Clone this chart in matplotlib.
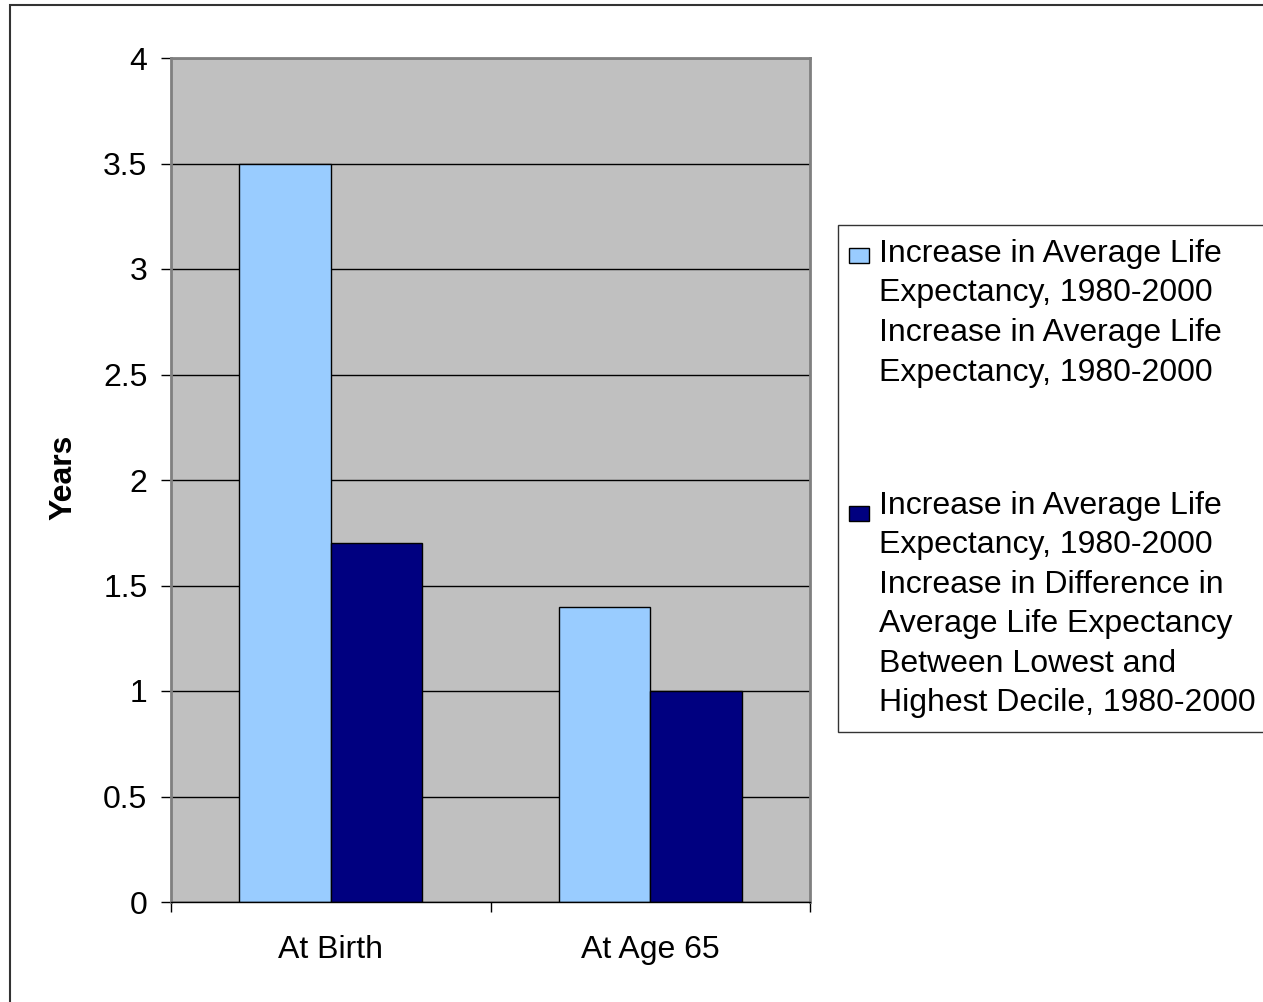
import matplotlib
matplotlib.use("Agg")
import matplotlib.pyplot as plt
from matplotlib.patches import Rectangle
import numpy as np

# datos
categorias = ["At Birth", "At Age 65"]
serie_clara = [3.5, 1.4]
serie_oscura = [1.7, 1.0]
etiquetas_leyenda = [
    "Increase in Average Life\nExpectancy, 1980-2000\nIncrease in Average Life\nExpectancy, 1980-2000",
    "Increase in Average Life\nExpectancy, 1980-2000\nIncrease in Difference in\nAverage Life Expectancy\nBetween Lowest and\nHighest Decile, 1980-2000",
]
yticks = [0, 0.5, 1, 1.5, 2, 2.5, 3, 3.5, 4]
ytick_labels = ["0", "0.5", "1", "1.5", "2", "2.5", "3", "3.5", "4"]

W, H = 1263, 1002
plt.rcParams['font.family'] = ['Liberation Sans', 'DejaVu Sans']
FS = 23
INTERLINEA = 39.5  # px entre lineas de la leyenda


def px(x, y):
    '''pixeles de la imagen -> fraccion de figura'''
    return x / W, 1 - y / H


fig = plt.figure(figsize=(W / 100, H / 100), dpi=100)

# marco exterior
fig.patches.append(Rectangle(px(10, 1100), 1400 / W, (1100 - 5) / H,
                             transform=fig.transFigure, fill=False,
                             edgecolor="#333333", linewidth=1.5))

x0, y0 = px(171, 902)
x1, y1 = px(810, 58)
ax = fig.add_axes([x0, y0, x1 - x0, y1 - y0])
ax.set_facecolor("#C0C0C0")

x = np.arange(len(categorias))
ancho = 0.287
ax.bar(x - ancho / 2, serie_clara, ancho, color="#99CCFF",
       edgecolor="black", linewidth=1.0, zorder=3)
ax.bar(x + ancho / 2, serie_oscura, ancho, color="#000080",
       edgecolor="black", linewidth=1.0, zorder=3)

ax.set_xlim(-0.5, len(categorias) - 0.5)
ax.set_ylim(0, 4)
ax.set_yticks(yticks)
ax.set_yticklabels(ytick_labels, fontsize=FS)
ax.yaxis.grid(True, color="black", linewidth=1.0, zorder=1)
ax.set_axisbelow(True)
ax.tick_params(axis="y", length=7, width=1, pad=10, color="black")

ax.set_xticks(x)
ax.set_xticklabels(categorias, fontsize=FS)
ax.tick_params(axis="x", which="major", length=0, pad=24)
ax.set_xticks(np.arange(-0.5, len(categorias)), minor=True)
ax.tick_params(axis="x", which="minor", length=7, width=1, color="black")

for lado in ["top", "right", "left"]:
    ax.spines[lado].set_color("#808080")
    ax.spines[lado].set_linewidth(2)
ax.spines["bottom"].set_color("black")
ax.spines["bottom"].set_linewidth(1)
ax.spines["bottom"].set_zorder(4)

fig.text(*px(63, 477), "Years", rotation=90, fontsize=23, fontweight="bold",
         ha="center", va="center")

# leyenda hecha a mano
lx, ly = px(838, 732)
fig.patches.append(Rectangle((lx, ly), (1300 - 838) / W, (732 - 225) / H,
                             transform=fig.transFigure, facecolor="white",
                             edgecolor="#333333", linewidth=1))
colores = ["#99CCFF", "#000080"]
cuadros_y = [248, 506]
bases_y = [262, 514]
for etiqueta, color, cy, by in zip(etiquetas_leyenda, colores, cuadros_y, bases_y):
    fig.patches.append(Rectangle(px(849, cy + 15), 20 / W, 15 / H,
                                 transform=fig.transFigure, facecolor=color,
                                 edgecolor="black", linewidth=1))
    n = etiqueta.count("\n")
    fig.text(*px(879, by + n * INTERLINEA), etiqueta, fontsize=FS,
             ha="left", va="baseline", linespacing=INTERLINEA / (FS * 1.215))

fig.savefig("out.png", dpi=100)
